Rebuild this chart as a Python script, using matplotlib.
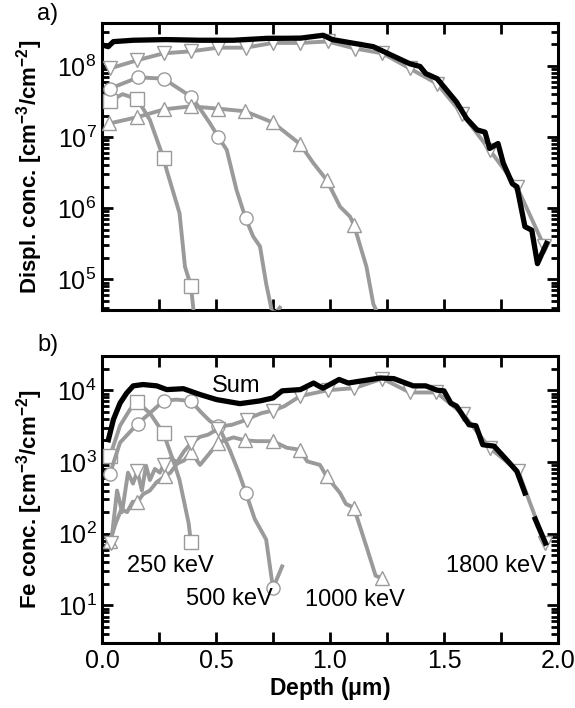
import matplotlib
matplotlib.use('Agg')
import matplotlib.pyplot as plt
from matplotlib.ticker import LogLocator, MultipleLocator, NullFormatter, FixedLocator
import numpy as np

plt.rcParams['font.family'] = ['Liberation Sans', 'DejaVu Sans']
plt.rcParams['mathtext.fontset'] = 'custom'
plt.rcParams['mathtext.rm'] = 'Liberation Sans'
plt.rcParams['mathtext.bf'] = 'Liberation Sans:bold'

GREY = '#9a9a9a'

# ---- panel a) displacement concentration ----
sum_a_x = [0.006, 0.027, 0.05, 0.137, 0.28, 0.43, 0.575, 0.72, 0.87, 0.97, 1.01, 1.19, 1.35,
           1.395, 1.42, 1.47, 1.555, 1.60, 1.645, 1.68, 1.70, 1.737, 1.76, 1.80, 1.82, 1.855,
           1.885, 1.91, 1.95]
sum_a_y = [1.95e8, 1.86e8, 2.19e8, 2.29e8, 2.34e8, 2.29e8, 2.29e8, 2.43e8, 2.45e8, 2.69e8, 2.34e8,
           1.86e8, 1.07e8, 9.8e7, 7.8e7, 6.6e7, 3.1e7, 1.8e7, 1.26e7, 1.17e7, 6.9e6, 8.1e6,
           4.3e6, 2.2e6, 2.0e6, 5.5e5, 4.9e5, 1.66e5, 3.2e5]

e1800_a_x = [0.035, 0.155, 0.27, 0.39, 0.51, 0.63, 0.75, 0.87, 0.99, 1.11, 1.23, 1.35, 1.47,
             1.58, 1.70, 1.82, 1.94]
e1800_a_y = [9.2e7, 1.2e8, 1.5e8, 1.6e8, 1.8e8, 1.8e8, 2.1e8, 2.1e8, 2.2e8, 1.75e8, 1.5e8,
             9.2e7, 5.6e7, 2.1e7, 6.6e6, 2.0e6, 2.9e5]
e1800_a_m = list(range(17))

e1000_a_x = [0.032, 0.155, 0.273, 0.39, 0.51, 0.627, 0.749, 0.868, 0.927, 0.985, 1.044, 1.088,
             1.105, 1.16, 1.19, 1.227]
e1000_a_y = [1.55e7, 1.9e7, 2.45e7, 2.7e7, 2.5e7, 2.3e7, 1.6e7, 8.0e6, 4.3e6, 2.5e6, 1.05e6,
             7.6e5, 5.8e5, 1.5e5, 4.5e4, 2.5e4]
e1000_a_m = [0, 1, 2, 3, 4, 5, 6, 7, 9, 12, 15]

e500_a_x = [0.035, 0.16, 0.27, 0.39, 0.43, 0.474, 0.51, 0.547, 0.59, 0.63, 0.663, 0.693, 0.72,
            0.75, 0.78]
e500_a_y = [4.8e7, 6.9e7, 6.6e7, 3.7e7, 2.5e7, 1.55e7, 1.0e7, 6.6e6, 1.8e6, 7.2e5, 4.0e5,
            2.9e5, 8.7e4, 3.0e4, 4.0e4]
e500_a_m = [0, 1, 2, 3, 6, 9, 13]

e250_a_x = [0.035, 0.09, 0.155, 0.21, 0.27, 0.284, 0.34, 0.364, 0.39, 0.41]
e250_a_y = [3.2e7, 4.0e7, 3.4e7, 1.74e7, 5.0e6, 3.4e6, 8.5e5, 1.5e5, 8.1e4, 2.0e4]
e250_a_m = [0, 2, 4, 8]

# ---- panel b) Fe concentration ----
sum_b_x = [0.028, 0.05, 0.079, 0.108, 0.137, 0.18, 0.24, 0.284, 0.357, 0.43, 0.503, 0.605,
           0.693, 0.75, 0.79, 0.87, 0.928, 0.956, 0.97, 1.04, 1.08, 1.14, 1.22, 1.28, 1.365,
           1.42, 1.47, 1.50, 1.53, 1.555, 1.61, 1.64, 1.67, 1.72, 1.775, 1.82, 1.855, 1.878,
           1.90, 1.945]
sum_b_y = [2.04e3, 3.9e3, 6.6e3, 9.1e3, 1.15e4, 1.2e4, 1.15e4, 1.02e4, 1.05e4, 8.7e3, 7.4e3,
           6.5e3, 7.1e3, 7.8e3, 9.8e3, 1.02e4, 1.26e4, 1.12e4, 1.07e4, 1.41e4, 1.26e4, 1.35e4,
           1.48e4, 1.45e4, 1.15e4, 1.15e4, 1.0e4, 9.8e3, 6.6e3, 6.0e3, 3.3e3, 3.2e3, 1.74e3,
           1.66e3, 1.07e3, 740, 370, np.nan, 160, 74]

e1800_b_x = [0.04, 0.066, 0.088, 0.114, 0.136, 0.155, 0.175, 0.193, 0.21, 0.232, 0.254, 0.27,
             0.30, 0.33, 0.36, 0.39, 0.43, 0.465, 0.51, 0.54, 0.57, 0.605, 0.635, 0.67, 0.70,
             0.75, 0.80, 0.87, 0.99, 1.107, 1.23, 1.35, 1.467, 1.585, 1.70, 1.826, 1.943]
e1800_b_y = [74, 400, 200, 710, 500, 740, 400, 890, 560, 800, 710, 910, 1.12e3, 1.0e3, 1.41e3,
             1.82e3, 2.24e3, 2.4e3, 2.9e3, 3.2e3, 3.3e3, 3.6e3, 3.9e3, 4.4e3, 4.8e3, 5.2e3,
             6.0e3, 8.3e3, 1.0e4, 1.07e4, 1.45e4, 9.3e3, 9.3e3, 4.6e3, 1.58e3, 740, 74]
e1800_b_m = [0, 5, 11, 15, 18, 22, 25, 27, 28, 29, 30, 31, 32, 33, 34, 35, 36]

e1000_b_x = [0.035, 0.06, 0.085, 0.11, 0.135, 0.155, 0.18, 0.21, 0.24, 0.276, 0.30, 0.33,
             0.36, 0.39, 0.43, 0.51, 0.576, 0.627, 0.68, 0.75, 0.81, 0.868, 0.90, 0.956,
             0.985, 1.044, 1.07, 1.105, 1.16, 1.20, 1.227]
e1000_b_y = [78, 140, 220, 200, 280, 275, 355, 400, 525, 630, 710, 950, 1.05e3, 1.38e3, 910,
             1.86e3, 2.2e3, 2.0e3, 1.95e3, 1.95e3, 1.58e3, 1.48e3, 1.02e3, 910, 630, 370, 260,
             230, 66, 26, 24]
e1000_b_m = [0, 5, 9, 13, 15, 17, 19, 21, 24, 27, 30]

e500_b_x = [0.035, 0.079, 0.156, 0.21, 0.27, 0.325, 0.39, 0.43, 0.474, 0.51, 0.56, 0.60,
            0.632, 0.67, 0.72, 0.75, 0.79]
e500_b_y = [690, 1.86e3, 3.4e3, 4.8e3, 7.1e3, 7.4e3, 7.1e3, 5.1e3, 3.7e3, 3.2e3, 1.48e3, 710,
            365, 160, 83, 17.4, 35]
e500_b_m = [0, 2, 4, 6, 9, 12, 15]

e250_b_x = [0.035, 0.079, 0.123, 0.155, 0.21, 0.27, 0.32, 0.34, 0.38, 0.39]
e250_b_y = [1.2e3, 3.2e3, 5.4e3, 6.8e3, 4.8e3, 2.5e3, 890, 560, 140, 76]
e250_b_m = [0, 3, 5, 9]

energy_labels = ['250 keV', '500 keV', '1000 keV', '1800 keV']


def grey_series(ax, x, y, marker, mark):
    ax.plot(x, y, color=GREY, lw=2.8, marker=marker, markevery=mark, ms=9.5,
            mfc='white', mec=GREY, mew=1.0, zorder=3, clip_on=True)


def style_axes(ax, ylim, ylabel):
    ax.set_yscale('log')
    ax.set_xlim(0, 2.0)
    ax.set_ylim(*ylim)
    ax.xaxis.set_major_locator(MultipleLocator(0.5))
    ax.xaxis.set_minor_locator(MultipleLocator(0.25))
    ax.yaxis.set_minor_locator(LogLocator(base=10, subs=np.arange(2, 10), numticks=20))
    ax.yaxis.set_minor_formatter(NullFormatter())
    ax.tick_params(which='both', direction='in', top=True, right=True, width=2.0,
                   labelsize=18, pad=4)
    ax.tick_params(which='major', length=8)
    ax.tick_params(axis='x', which='minor', length=8)
    ax.tick_params(axis='y', which='minor', length=5)
    for s in ax.spines.values():
        s.set_linewidth(2.2)
    ax.set_ylabel(ylabel, fontsize=16, fontweight='bold')
    ax.yaxis.set_label_coords(-0.125, 0.5)


fig = plt.figure(figsize=(5.75, 7.08), dpi=100)
ax1 = fig.add_axes([0.1774, 0.5621, 0.793, 0.4054])
ax2 = fig.add_axes([0.1774, 0.0918, 0.793, 0.4054])

grey_series(ax1, e250_a_x, e250_a_y, 's', e250_a_m)
grey_series(ax1, e500_a_x, e500_a_y, 'o', e500_a_m)
grey_series(ax1, e1000_a_x, e1000_a_y, '^', e1000_a_m)
grey_series(ax1, e1800_a_x, e1800_a_y, 'v', e1800_a_m)
ax1.plot(sum_a_x, sum_a_y, color='black', lw=3.8, zorder=4)

grey_series(ax2, e250_b_x, e250_b_y, 's', e250_b_m)
grey_series(ax2, e500_b_x, e500_b_y, 'o', e500_b_m)
grey_series(ax2, e1000_b_x, e1000_b_y, '^', e1000_b_m)
grey_series(ax2, e1800_b_x, e1800_b_y, 'v', e1800_b_m)
ax2.plot(sum_b_x, sum_b_y, color='black', lw=3.8, zorder=4)

style_axes(ax1, (3.7e4, 4.0e8), r'Displ. conc. [cm$^{\mathbf{-3}}$/cm$^{\mathbf{-2}}$]')
style_axes(ax2, (3.0, 3.0e4), r'Fe conc. [cm$^{\mathbf{-3}}$/cm$^{\mathbf{-2}}$]')
ax1.tick_params(axis='x', labelbottom=False)
ax1.yaxis.set_major_locator(FixedLocator([1e5, 1e6, 1e7, 1e8]))
ax2.yaxis.set_major_locator(FixedLocator([1e1, 1e2, 1e3, 1e4]))
ax1.set_yticklabels(['$10^{5}$', '$10^{6}$', '$10^{7}$', '$10^{8}$'])
ax2.set_yticklabels(['$10^{1}$', '$10^{2}$', '$10^{3}$', '$10^{4}$'])
ax2.set_xticks([0.0, 0.5, 1.0, 1.5, 2.0])
ax2.set_xticklabels(['0.0', '0.5', '1.0', '1.5', '2.0'])
ax2.set_xlabel(r'Depth ($\mathbf{\mu}$m)', fontsize=16.5, fontweight='bold', labelpad=2)

# annotations
ax2.text(0.59, 1.15e4, 'Sum', fontsize=17, ha='center', va='center')
ax2.text(0.30, 36, energy_labels[0], fontsize=17, ha='center', va='center')
ax2.text(0.56, 12.5, energy_labels[1], fontsize=17, ha='center', va='center')
ax2.text(1.11, 12, energy_labels[2], fontsize=17, ha='center', va='center')
ax2.text(1.73, 36, energy_labels[3], fontsize=17, ha='center', va='center')

fig.text(0.083, 0.98, 'a)', fontsize=17, ha='center', va='center')
fig.text(0.083, 0.513, 'b)', fontsize=17, ha='center', va='center')

fig.savefig('out.png', dpi=100)
